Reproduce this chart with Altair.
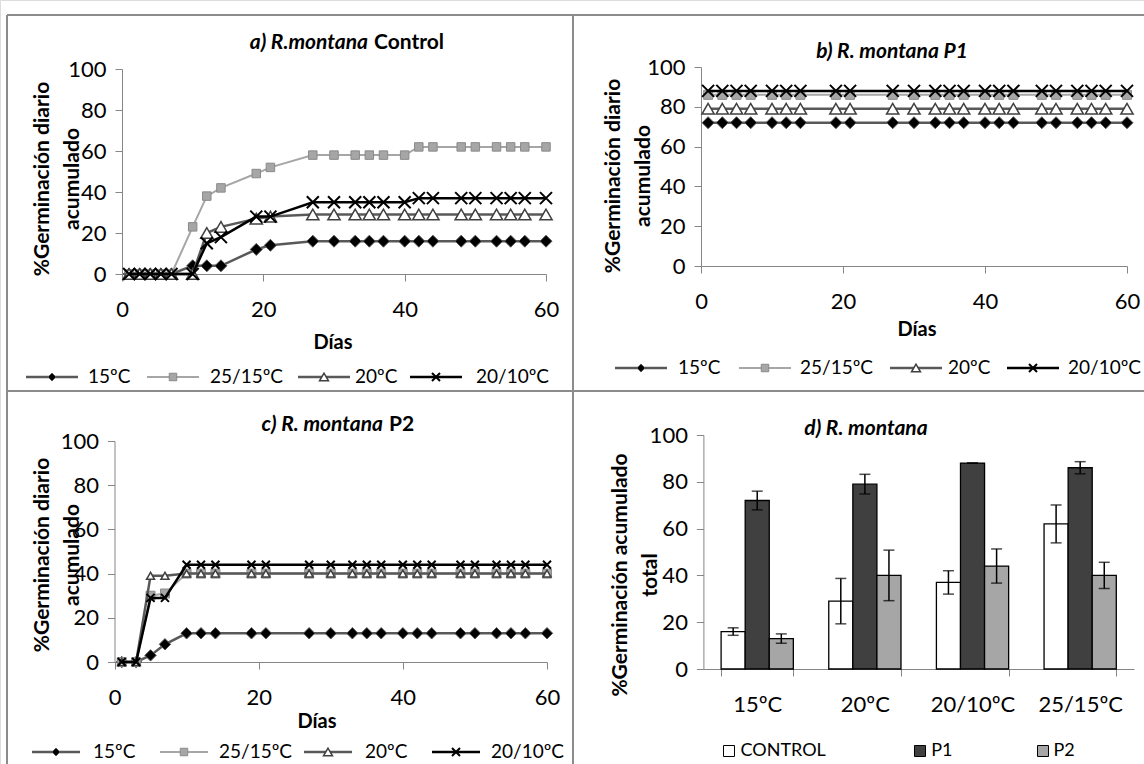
import altair as alt
import pandas as pd

# ---------------- data ----------------
series = ["15ºC", "25/15ºC", "20ºC", "20/10ºC"]

# panel a) R.montana Control
days_a = [1, 2.5, 4, 5.5, 7, 10, 12, 14, 19, 21, 27, 30, 33, 35, 37, 40, 42, 44, 48, 50, 53, 55, 57, 60]
a_15 = [0, 0, 0, 0, 0, 4, 4, 4, 12, 14, 16, 16, 16, 16, 16, 16, 16, 16, 16, 16, 16, 16, 16, 16]
a_2515 = [0, 0, 0, 0, 0, 23, 38, 42, 49, 52, 58, 58, 58, 58, 58, 58, 62, 62, 62, 62, 62, 62, 62, 62]
a_20 = [0, 0, 0, 0, 0, 0, 20, 23, 27, 28, 29, 29, 29, 29, 29, 29, 29, 29, 29, 29, 29, 29, 29, 29]
a_2010 = [0, 0, 0, 0, 0, 0, 15, 18, 28, 28, 35, 35, 35, 35, 35, 35, 37, 37, 37, 37, 37, 37, 37, 37]

# panels b) and c)
days_bc = [1, 3, 5, 7, 10, 12, 14, 19, 21, 27, 30, 33, 35, 37, 40, 42, 44, 48, 50, 53, 55, 57, 60]
b_15 = [72, 72, 72, 72, 72, 72, 72, 72, 72, 72, 72, 72, 72, 72, 72, 72, 72, 72, 72, 72, 72, 72, 72]
b_2515 = [86, 86, 86, 86, 86, 86, 86, 86, 86, 86, 86, 86, 86, 86, 86, 86, 86, 86, 86, 86, 86, 86, 86]
b_20 = [79, 79, 79, 79, 79, 79, 79, 79, 79, 79, 79, 79, 79, 79, 79, 79, 79, 79, 79, 79, 79, 79, 79]
b_2010 = [88, 88, 88, 88, 88, 88, 88, 88, 88, 88, 88, 88, 88, 88, 88, 88, 88, 88, 88, 88, 88, 88, 88]

c_15 = [0, 0, 3, 8, 13, 13, 13, 13, 13, 13, 13, 13, 13, 13, 13, 13, 13, 13, 13, 13, 13, 13, 13]
c_2515 = [0, 0, 30, 31, 40, 40, 40, 40, 40, 40, 40, 40, 40, 40, 40, 40, 40, 40, 40, 40, 40, 40, 40]
c_20 = [0, 0, 39, 39, 40, 40, 40, 40, 40, 40, 40, 40, 40, 40, 40, 40, 40, 40, 40, 40, 40, 40, 40]
c_2010 = [0, 0, 29, 29, 44, 44, 44, 44, 44, 44, 44, 44, 44, 44, 44, 44, 44, 44, 44, 44, 44, 44, 44]

# panel d) totals
temps = ["15ºC", "20ºC", "20/10ºC", "25/15ºC"]
treats = ["CONTROL", "P1", "P2"]
d_control = [16, 29, 37, 62]
d_control_err = [1.6, 9.7, 5.0, 8.1]
d_p1 = [72, 79, 88, 86]
d_p1_err = [4.0, 4.2, 0.0, 2.6]
d_p2 = [13, 40, 44, 40]
d_p2_err = [2.0, 10.8, 7.3, 5.6]

day_ticks = [0, 20, 40, 60]
pct_ticks = [0, 20, 40, 60, 80, 100]

# ---------------- styling / layout ----------------
W, H = 1144, 764
FONT = "Lato"
AXC = "#868686"
BORDER = "#8c8c8c"
XPATH = "M-1,-1L1,1M-1,1L1,-1"
ONE = alt.Data(values=[{"k": 0}])

style = {
    "15ºC": dict(line="#595959", lw=2.5, shape="diamond", fill="#000000", stroke="#595959", sw=1.0),
    "25/15ºC": dict(line="#a6a6a6", lw=2.0, shape="square", fill="#a6a6a6", stroke="#8a8a8a", sw=1.0),
    "20ºC": dict(line="#595959", lw=2.5, shape="triangle-up", fill="#ffffff", stroke="#404040", sw=1.5),
    "20/10ºC": dict(line="#000000", lw=2.5, shape=XPATH, fill=None, stroke="#000000", sw=2.0),
}
legend_size = {"15ºC": 64, "25/15ºC": 56, "20ºC": 80, "20/10ºC": 64}

P = {
    "a": dict(xr=[122, 546], yr=[274, 69],
              msize={"15ºC": 144, "25/15ºC": 72, "20ºC": 150, "20/10ºC": 144},
              title=[("a) R.montana", "italic", "right", 368), ("Control", "normal", "left", 374)], ty=43,
              dias=(333, 343), ytitle=(43, 179), ylines=["%Germinación diario", "acumulado"],
              leg_y=377, leg_mx=[52, 173, 324, 436], leg_tx=[88, 210, 355, 476], leg_half=26),
    "b": dict(xr=[701, 1127], yr=[266, 67],
              msize={"15ºC": 144, "25/15ºC": 80, "20ºC": 150, "20/10ºC": 144},
              title=[("b) R. montana P1", "italic", "center", 892)], ty=52,
              dias=(917, 330), ytitle=(614, 176), ylines=["%Germinación diario", "acumulado"],
              leg_y=368, leg_mx=[641, 765, 916, 1033], leg_tx=[678, 800, 948, 1068], leg_half=26),
    "c": dict(xr=[114.5, 547], yr=[662, 441],
              msize={"15ºC": 130, "25/15ºC": 80, "20ºC": 64, "20/10ºC": 64},
              title=[("c) R. montana", "italic", "right", 383), ("P2", "normal", "left", 389)], ty=425,
              dias=(317, 722), ytitle=(43, 555), ylines=["%Germinación diario", "acumulado"],
              leg_y=752, leg_mx=[56, 184, 328, 456], leg_tx=[93, 219, 365, 491], leg_half=24),
}


def xaxis(axis_y):
    return alt.Axis(orient="bottom", offset=axis_y - H, values=day_ticks, title=None, grid=False,
                    domainColor=AXC, tickColor=AXC, tickSize=7, labelFont=FONT, labelFontSize=22,
                    labelColor="black", labelPadding=18, labelFlush=False, labelOverlap=False)


def yaxis(axis_x):
    return alt.Axis(orient="left", offset=-axis_x, values=pct_ticks, title=None, grid=False,
                    domainColor=AXC, tickColor=AXC, tickSize=7, labelFont=FONT, labelFontSize=22,
                    labelColor="black", labelPadding=9, labelFlush=False, labelOverlap=False)


def text(t, x, y, size=20, weight="bold", style_="normal", align="center", angle=0, lh=None):
    kw = dict(text=t, font=FONT, fontSize=size, fontWeight=weight, fontStyle=style_, align=align,
              baseline="middle", color="black")
    if angle:
        kw["angle"] = angle
    if lh:
        kw["lineHeight"] = lh
    return alt.Chart(ONE).mark_text(**kw).encode(x=alt.value(x), y=alt.value(y))


def marker_kw(s, size):
    st = style[s]
    kw = dict(shape=st["shape"], size=size, stroke=st["stroke"], strokeWidth=st["sw"], opacity=1)
    if st["fill"]:
        kw.update(filled=True, fill=st["fill"])
    else:
        kw.update(filled=False)
    return kw


def line_panel(key, days, vals):
    p = P[key]
    xs = alt.Scale(domain=[0, 60], range=p["xr"], nice=False, zero=False)
    ys = alt.Scale(domain=[0, 100], range=p["yr"], nice=False)
    layers = []
    for i, s in enumerate(series):
        df = pd.DataFrame({"day": days, "v": vals[i]})
        st = style[s]
        xa = xaxis(p["yr"][0]) if i == 0 else None
        ya = yaxis(p["xr"][0]) if i == 0 else None
        layers.append(alt.Chart(df).mark_line(color=st["line"], strokeWidth=st["lw"]).encode(
            x=alt.X("day:Q", scale=xs, axis=xa), y=alt.Y("v:Q", scale=ys, axis=ya)))
        layers.append(alt.Chart(df).mark_point(**marker_kw(s, p["msize"][s])).encode(
            x=alt.X("day:Q", scale=xs, axis=None), y=alt.Y("v:Q", scale=ys, axis=None)))
    # titles
    for t, sty, al, x in p["title"]:
        layers.append(text(t, x, p["ty"], size=21, style_=sty, align=al))
    layers.append(text("Días", p["dias"][0], p["dias"][1], size=20))
    layers.append(text(p["ylines"], p["ytitle"][0], p["ytitle"][1], size=21, angle=270, lh=30))
    # legend
    ly = p["leg_y"]
    for s, mx, tx in zip(series, p["leg_mx"], p["leg_tx"]):
        st = style[s]
        layers.append(alt.Chart(ONE).mark_rule(color=st["line"], strokeWidth=st["lw"]).encode(
            x=alt.value(mx - p["leg_half"]), x2=alt.value(mx + p["leg_half"]), y=alt.value(ly)))
        layers.append(alt.Chart(ONE).mark_point(**marker_kw(s, legend_size[s])).encode(
            x=alt.value(mx), y=alt.value(ly)))
        layers.append(text(s, tx, ly, size=19, weight="normal", align="left"))
    return layers


layers = []
layers += line_panel("a", days_a, [a_15, a_2515, a_20, a_2010])
layers += line_panel("b", days_bc, [b_15, b_2515, b_20, b_2010])
layers += line_panel("c", days_bc, [c_15, c_2515, c_20, c_2010])

# ---------------- panel d: bars ----------------
bars = pd.DataFrame({
    "temp": temps * 3,
    "treat": [treats[0]] * 4 + [treats[1]] * 4 + [treats[2]] * 4,
    "v": d_control + d_p1 + d_p2,
    "err": d_control_err + d_p1_err + d_p2_err,
})
bars["lo"] = bars["v"] - bars["err"]
bars["hi"] = bars["v"] + bars["err"]

dx = alt.Scale(domain=temps, range=[703.4, 1134], paddingInner=0.329, paddingOuter=0.1645)
dy = alt.Scale(domain=[0, 100], range=[669, 435], nice=False)
doff = alt.Scale(domain=treats)
fills = alt.Scale(domain=treats, range=["#ffffff", "#404040", "#a6a6a6"])

d_xaxis = alt.Axis(orient="bottom", offset=669 - H, title=None, grid=False, domainColor=AXC, tickColor=AXC,
                   tickSize=7, tickBand="extent", labelFont=FONT, labelFontSize=22, labelColor="black",
                   labelPadding=18, labelOverlap=False, labelAngle=0)
d_yaxis = alt.Axis(orient="left", offset=-703.4, values=pct_ticks, title=None, grid=False, domainColor=AXC,
                   tickColor=AXC, tickSize=7, labelFont=FONT, labelFontSize=22, labelColor="black",
                   labelPadding=9, labelOverlap=False, labelFlush=False)

layers.append(alt.Chart(bars).mark_bar(stroke="#000000", strokeWidth=1.3).encode(
    x=alt.X("temp:N", scale=dx, axis=d_xaxis, sort=temps),
    xOffset=alt.XOffset("treat:N", scale=doff, sort=treats),
    y=alt.Y("v:Q", scale=dy, axis=d_yaxis),
    fill=alt.Fill("treat:N", scale=fills, legend=None)))
layers.append(alt.Chart(bars).mark_rule(color="black", strokeWidth=1.5).encode(
    x=alt.X("temp:N", scale=dx, axis=None, sort=temps),
    xOffset=alt.XOffset("treat:N", scale=doff, sort=treats),
    y=alt.Y("lo:Q", scale=dy, axis=None), y2="hi:Q"))
for col in ["lo", "hi"]:
    layers.append(alt.Chart(bars).mark_tick(color="black", thickness=1.5, size=11, orient="horizontal").encode(
        x=alt.X("temp:N", scale=dx, axis=None, sort=temps),
        xOffset=alt.XOffset("treat:N", scale=doff, sort=treats),
        y=alt.Y(f"{col}:Q", scale=dy, axis=None)))

layers.append(text("d) R. montana", 866, 429, size=21, style_="italic"))
layers.append(text(["%Germinación acumulado", "total"], 621, 575, size=21, angle=270, lh=30))
for t, bx, tx, c in zip(treats, [729, 920, 1043], [740.5, 931.3, 1053.5], ["#ffffff", "#404040", "#a6a6a6"]):
    layers.append(alt.Chart(ONE).mark_point(shape="square", size=121, filled=True, fill=c, stroke="black",
                                            strokeWidth=1, opacity=1).encode(x=alt.value(bx), y=alt.value(751)))
    layers.append(text(t, tx, 751, size=18, weight="normal", align="left"))

# ---------------- panel borders ----------------
for x1, x2, y1, y2 in [(7, W, 15, 15), (7, W, 391, 391), (7, 7, 15, H), (573, 573, 15, H)]:
    layers.append(alt.Chart(ONE).mark_rule(color=BORDER, strokeWidth=2).encode(
        x=alt.value(x1), x2=alt.value(x2), y=alt.value(y1), y2=alt.value(y2)))

chart = alt.layer(*layers).resolve_scale(
    x="independent", y="independent", fill="independent", xOffset="independent"
).properties(
    width=W, height=H, padding=0, autosize=alt.AutoSizeParams(type="none")
).configure_view(stroke=None).configure(background="white")

chart.save("out.html", embed_options={"renderer": "svg", "actions": False})
